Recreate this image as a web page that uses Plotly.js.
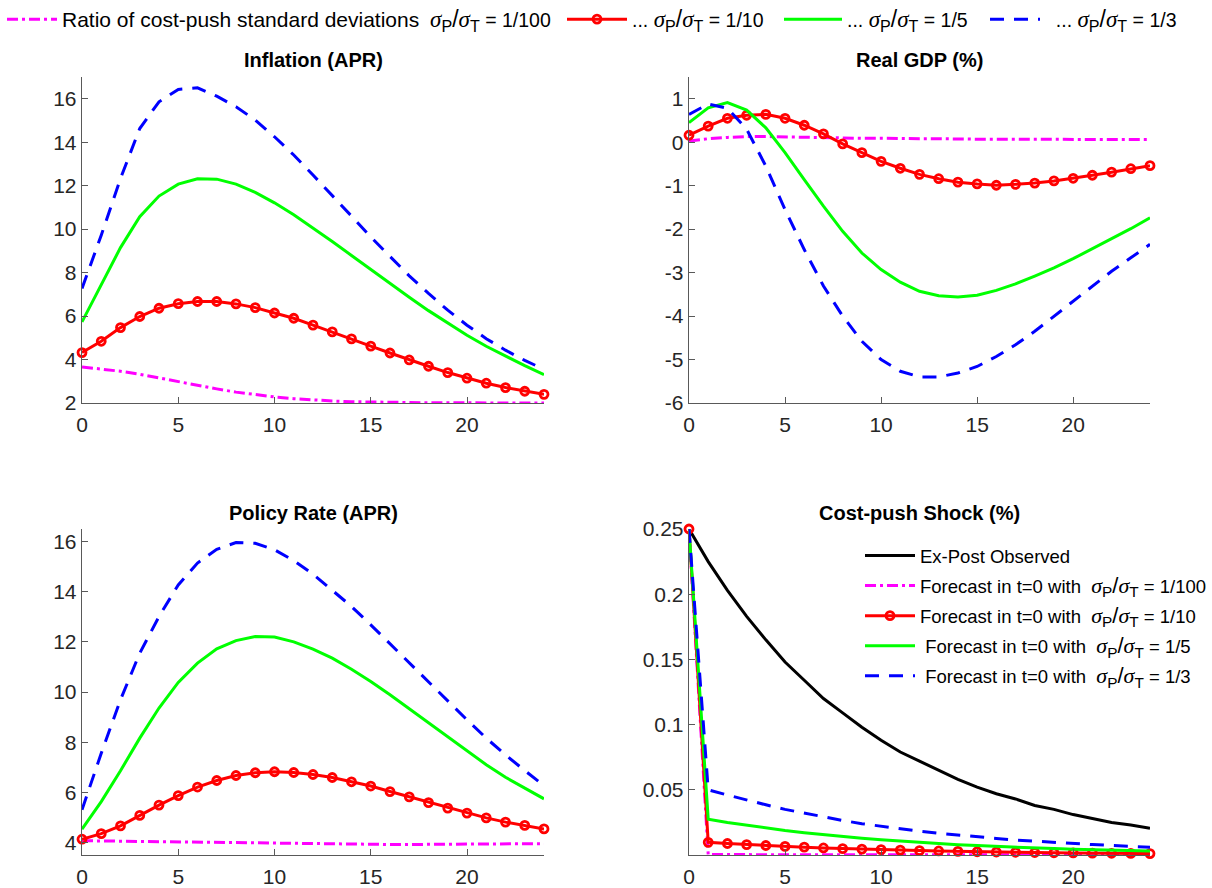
<!DOCTYPE html>
<html>
<head>
<meta charset="utf-8">
<script src="https://cdn.plot.ly/plotly-3.0.1.min.js"></script>
<style>html,body{margin:0;padding:0;background:#fff;}#chart{width:1212px;height:888px;}</style>
</head>
<body>
<div id="chart"></div>
<script>
// ---------- data ----------
const horizon = [0,1,2,3,4,5,6,7,8,9,10,11,12,13,14,15,16,17,18,19,20,21,22,23,24];

const inflation_r100 = [3.66,3.56,3.46,3.32,3.15,2.97,2.80,2.65,2.50,2.38,2.28,2.20,2.14,2.09,2.06,2.04,2.03,2.02,2.01,2.01,2.00,2.00,2.00,2.00,2.00];
const inflation_r10  = [4.32,4.84,5.47,5.98,6.36,6.57,6.67,6.67,6.56,6.39,6.14,5.90,5.58,5.27,4.95,4.62,4.30,3.98,3.69,3.40,3.14,2.91,2.71,2.54,2.40];
const inflation_r5   = [5.73,7.42,9.15,10.57,11.52,12.07,12.32,12.30,12.07,11.69,11.21,10.66,10.06,9.43,8.79,8.14,7.50,6.87,6.25,5.67,5.12,4.61,4.15,3.72,3.30];
const inflation_r3   = [7.27,9.72,12.33,14.63,15.86,16.43,16.50,16.12,15.63,15.02,14.25,13.41,12.49,11.56,10.60,9.64,8.72,7.85,7.04,6.27,5.58,4.96,4.43,3.96,3.55];

const gdp_r100 = [0.03,0.08,0.11,0.13,0.13,0.12,0.12,0.11,0.10,0.09,0.09,0.08,0.08,0.08,0.07,0.07,0.07,0.07,0.07,0.06,0.06,0.06,0.06,0.06,0.06];
const gdp_r10  = [0.16,0.37,0.55,0.62,0.64,0.55,0.39,0.19,-0.04,-0.24,-0.44,-0.60,-0.74,-0.84,-0.92,-0.96,-0.99,-0.97,-0.94,-0.89,-0.83,-0.76,-0.69,-0.61,-0.54];
const gdp_r5   = [0.45,0.79,0.91,0.74,0.33,-0.24,-0.86,-1.47,-2.05,-2.55,-2.93,-3.22,-3.43,-3.53,-3.56,-3.52,-3.41,-3.26,-3.08,-2.89,-2.68,-2.45,-2.22,-1.99,-1.74];
const gdp_r3   = [0.64,0.88,0.78,0.30,-0.55,-1.55,-2.47,-3.31,-4.00,-4.58,-5.00,-5.27,-5.40,-5.40,-5.31,-5.16,-4.93,-4.66,-4.35,-4.00,-3.66,-3.31,-2.97,-2.66,-2.35];

const policy_r100 = [4.07,4.06,4.05,4.04,4.03,4.01,4.00,3.98,3.97,3.96,3.95,3.94,3.93,3.93,3.92,3.92,3.92,3.92,3.93,3.93,3.93,3.94,3.94,3.95,3.95];
const policy_r10  = [4.13,4.35,4.66,5.08,5.49,5.87,6.21,6.47,6.67,6.78,6.82,6.79,6.71,6.59,6.42,6.25,6.03,5.82,5.59,5.37,5.17,4.98,4.81,4.68,4.54];
const policy_r5   = [4.53,5.63,6.86,8.16,9.36,10.38,11.15,11.72,12.05,12.21,12.19,12.00,11.71,11.35,10.91,10.42,9.89,9.33,8.76,8.20,7.63,7.10,6.60,6.17,5.74];
const policy_r3   = [5.30,7.56,9.69,11.55,13.01,14.27,15.14,15.69,15.96,15.93,15.67,15.24,14.70,14.07,13.41,12.68,11.92,11.15,10.38,9.62,8.89,8.16,7.49,6.87,6.26];

const shock_observed = [0.250,0.225,0.203,0.183,0.165,0.148,0.134,0.120,0.109,0.098,0.088,0.079,0.072,0.065,0.058,0.052,0.047,0.043,0.038,0.035,0.031,0.028,0.025,0.023,0.0205];
const shock_r100 = [0.25,0.0003,0.0003,0.0003,0.0002,0.0002,0.0002,0.0002,0.0002,0.0002,0.0001,0.0001,0.0001,0.0001,0.0001,0.0001,0.0001,0.0001,0.0001,0.0001,0.0001,0.0001,0.0001,0.0001,0.0001];
const shock_r10  = [0.25,0.0097,0.0088,0.0080,0.0073,0.0066,0.0060,0.0054,0.0049,0.0045,0.0041,0.0037,0.0034,0.0031,0.0028,0.0025,0.0023,0.0021,0.0019,0.0017,0.0016,0.0014,0.0013,0.0012,0.0011];
const shock_r5   = [0.25,0.0275,0.0250,0.0228,0.0207,0.0188,0.0171,0.0155,0.0141,0.0128,0.0116,0.0106,0.0096,0.0087,0.0079,0.0072,0.0065,0.0059,0.0054,0.0049,0.0044,0.0040,0.0036,0.0033,0.0030];
const shock_r3   = [0.25,0.0500,0.0460,0.0420,0.0385,0.0350,0.0320,0.0290,0.0265,0.0240,0.0220,0.0200,0.0183,0.0167,0.0152,0.0139,0.0127,0.0115,0.0105,0.0096,0.0088,0.0080,0.0073,0.0066,0.0060];

const panelTitles = ["Inflation (APR)", "Real GDP (%)", "Policy Rate (APR)", "Cost-push Shock (%)"];
const xTicks = [0,5,10,15,20];
const inflationTicks = [2,4,6,8,10,12,14,16];
const gdpTicks = [-6,-5,-4,-3,-2,-1,0,1];
const policyTicks = [4,6,8,10,12,14,16];
const shockTicks = [0.05,0.1,0.15,0.2,0.25];
const shockTickText = ["0.05","0.1","0.15","0.2","0.25"];

function ratioHtml(size) {
  const s = '<span style="font-family:\'Liberation Serif\'"><i>σ</i></span>';
  return '<span style="font-size:' + size + 'px">' + s + '<sub>P</sub>/' + s + '<sub>T</sub></span>';
}
const rTop = ratioHtml(23);
const rBox = ratioHtml(22);
const topNames = [
  '<span style="font-size:21px">Ratio of cost-push standard deviations</span>\u00a0\u00a0' + rTop + ' = 1/100',
  '... ' + rTop + ' = 1/10',
  '... ' + rTop + ' = 1/5',
  '\u00a0\u00a0... ' + rTop + ' = 1/3'
];
const shockNames = [
  'Ex-Post Observed',
  'Forecast in t=0 with\u00a0\u00a0' + rBox + ' = 1/100',
  'Forecast in t=0 with\u00a0\u00a0' + rBox + ' = 1/10',
  '\u00a0Forecast in t=0 with\u00a0\u00a0' + rBox + ' = 1/5',
  '\u00a0Forecast in t=0 with\u00a0\u00a0' + rBox + ' = 1/3'
];

// ---------- styles ----------
const FONT = 'Liberation Sans, Arial, Helvetica, sans-serif';
const LW = 3;
const sMag  = {line:{color:'#ff00ff', width:LW, dash:'11px,4px,3px,4px'}, mode:'lines'};
const sRed  = {line:{color:'#ff0000', width:LW}, mode:'lines+markers',
               marker:{symbol:'circle-open', size:8, color:'#ff0000', line:{width:2.8, color:'#ff0000'}}, cliponaxis:false};
const sGrn  = {line:{color:'#00ff00', width:LW}, mode:'lines'};
const sBlu  = {line:{color:'#0000ff', width:LW, dash:'14px,10px'}, mode:'lines'};
const sBlk  = {line:{color:'#000000', width:LW}, mode:'lines'};

function tr(style, y, ax, name, legend, group) {
  const t = JSON.parse(JSON.stringify(style));
  t.type = 'scatter';
  t.x = horizon; t.y = y;
  t.xaxis = 'x' + (ax === 1 ? '' : ax);
  t.yaxis = 'y' + (ax === 1 ? '' : ax);
  t.name = name || '';
  t.showlegend = !!legend;
  if (legend) t.legend = legend;
  if (group) t.legendgroup = group;
  t.hoverinfo = 'skip';
  return t;
}

const data = [
  tr(sMag, inflation_r100, 1, topNames[0], 'legend'),
  tr(sRed, inflation_r10, 1, topNames[1], 'legend3'),
  tr(sGrn, inflation_r5, 1, topNames[2], 'legend4'),
  tr(sBlu, inflation_r3, 1, topNames[3], 'legend5'),

  tr(sMag, gdp_r100, 2), tr(sRed, gdp_r10, 2), tr(sGrn, gdp_r5, 2), tr(sBlu, gdp_r3, 2),
  tr(sMag, policy_r100, 3), tr(sRed, policy_r10, 3), tr(sGrn, policy_r5, 3), tr(sBlu, policy_r3, 3),

  tr(sBlk, shock_observed, 4, shockNames[0], 'legend2', 'g0'),
  tr(sMag, shock_r100, 4, shockNames[1], 'legend2', 'g1'),
  tr(sRed, shock_r10, 4, shockNames[2], 'legend2', 'g2'),
  tr(sGrn, shock_r5, 4, shockNames[3], 'legend2', 'g3'),
  tr(sBlu, shock_r3, 4, shockNames[4], 'legend2', 'g4')
];

const W = 1212, H = 888;
const colL = [82/W, 544/W], colR = [689/W, 1150/W];
const rowT = [1-403/H, 1-77/H], rowB = [1-855/H, 1-529/H];
const TICKFONT = {family:FONT, size:21, color:'#262626'};

function xax(dom, anchor) {
  return {domain: dom, anchor: anchor, range:[0,24], tickvals:xTicks, ticktext:xTicks.map(String),
    showline:true, linecolor:'#595959', linewidth:1.3, ticks:'inside', ticklen:6, tickwidth:1, tickcolor:'#595959',
    showgrid:false, zeroline:false, mirror:false, tickfont:TICKFONT, ticklabelstandoff:2, fixedrange:true};
}
function yax(dom, anchor, range, tv, tt) {
  return {domain: dom, anchor: anchor, range:range, tickvals:tv, ticktext:tt || tv.map(String),
    showline:true, linecolor:'#595959', linewidth:1.3, ticks:'inside', ticklen:6, tickwidth:1, tickcolor:'#595959',
    showgrid:false, zeroline:false, mirror:false, tickfont:TICKFONT, fixedrange:true};
}

const titleY = [1-60/H, 1-513/H];
const annotations = [
  {text:'<b>'+panelTitles[0]+'</b>', x:(colL[0]+colL[1])/2, y:titleY[0]},
  {text:'<b>'+panelTitles[1]+'</b>', x:(colR[0]+colR[1])/2, y:titleY[0]},
  {text:'<b>'+panelTitles[2]+'</b>', x:(colL[0]+colL[1])/2, y:titleY[1]},
  {text:'<b>'+panelTitles[3]+'</b>', x:(colR[0]+colR[1])/2, y:titleY[1]}
].map(a => Object.assign(a, {xref:'paper', yref:'paper', xanchor:'center', yanchor:'middle', showarrow:false,
  font:{family:FONT, size:20, color:'#000'}}));

function topLegend(px, iw) {
  return {orientation:'h', x:px/W, y:1, xanchor:'left', yanchor:'top', bgcolor:'rgba(0,0,0,0)',
          borderwidth:0, itemwidth:iw, font:{family:FONT, size:19.5, color:'#000'}, itemclick:false, itemdoubleclick:false};
}

const layout = {
  width: W, height: H, autosize:false,
  margin:{l:0, r:0, t:0, b:0, pad:0},
  paper_bgcolor:'#ffffff', plot_bgcolor:'rgba(0,0,0,0)',
  font:{family:FONT, color:'#000'},
  xaxis: xax(colL, 'y'), yaxis: yax(rowT, 'x', [2,17], inflationTicks),
  xaxis2: xax(colR, 'y2'), yaxis2: yax(rowT, 'x2', [-6,1.5], gdpTicks),
  xaxis3: xax(colL, 'y3'), yaxis3: yax(rowB, 'x3', [3.5,16.5], policyTicks),
  xaxis4: xax(colR, 'y4'), yaxis4: yax(rowB, 'x4', [0,0.25], shockTicks, shockTickText),
  showlegend: true,
  legend: topLegend(2, 50),
  legend3: topLegend(562, 60),
  legend4: topLegend(779, 58),
  legend5: topLegend(985, 50),
  legend2: {orientation:'v', x:860/W, y:1-537/H, xanchor:'left', yanchor:'top', bgcolor:'rgba(0,0,0,0)',
           borderwidth:0, itemwidth:50, tracegroupgap:3, font:{family:FONT, size:18.5, color:'#000'}, traceorder:'grouped', itemclick:false, itemdoubleclick:false},
  annotations: annotations
};

Plotly.newPlot('chart', data, layout, {staticPlot:true, displayModeBar:false});
</script>
</body>
</html>
